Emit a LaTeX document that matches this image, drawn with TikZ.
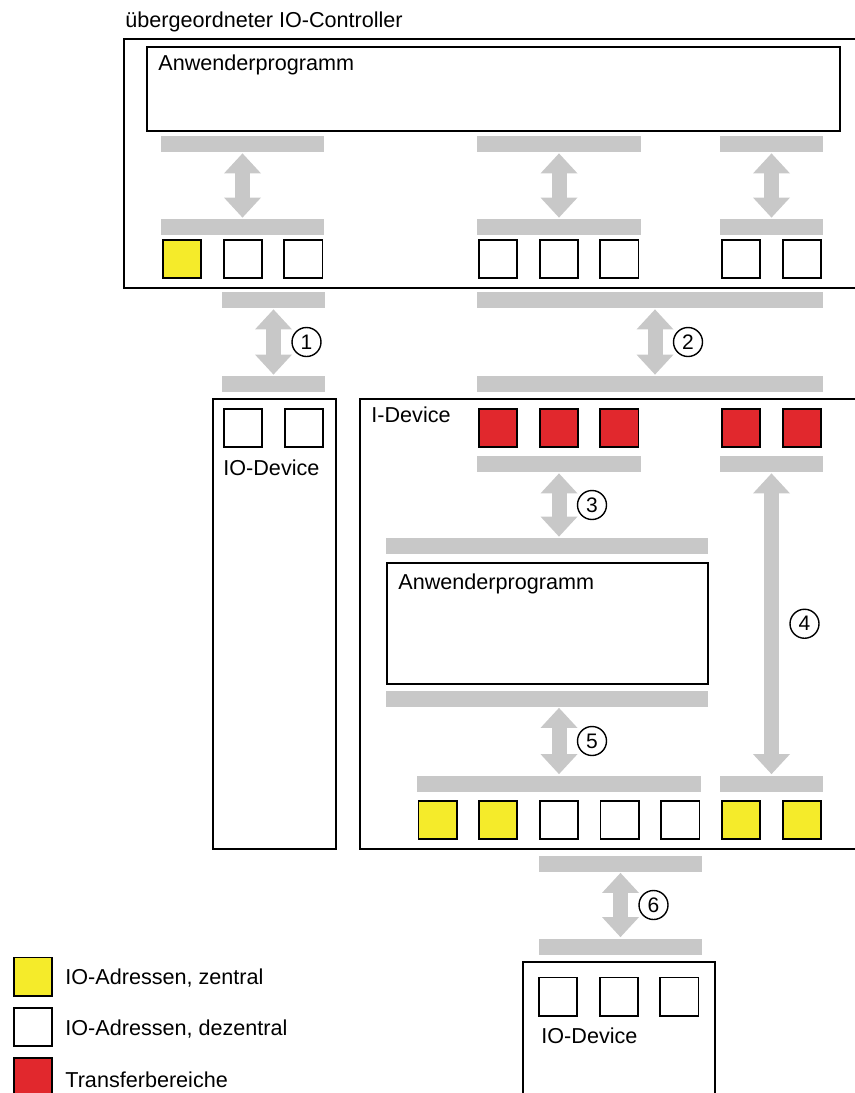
\documentclass[tikz,border=0pt]{standalone}
\usepackage{fontspec}
\setmainfont{Liberation Sans}
\usetikzlibrary{arrows.meta,positioning}
\definecolor{barcol}{HTML}{C8C8C8}
\definecolor{zentral}{HTML}{F5EB2A}
\definecolor{transfer}{HTML}{E1282D}

\begin{document}
\begin{tikzpicture}[
    x=0.5pt, y=-0.5pt,
    node distance=10.35pt,
    every node/.style={font=\fontsize{10.8}{13}\selectfont},
    box/.style={draw, line width=0.9pt, anchor=north west, inner sep=0},
    cell/.style={draw, line width=0.9pt, minimum width=19.1pt, minimum height=19.1pt, inner sep=0},
    cellz/.style={cell, fill=zentral},
    celld/.style={cell, fill=white},
    cellt/.style={cell, fill=transfer},
    bar/.style={fill=barcol, inner sep=0, minimum height=8pt},
    txt/.style={anchor=base west, inner sep=0},
    arrow/.style={draw=barcol, line width=7.5pt, shorten >=0.5pt, shorten <=0.5pt,
        {Triangle[length=10pt,width=18.5pt,line width=0pt]}-{Triangle[length=10pt,width=18.5pt,line width=0pt]}},
    num/.style={circle, draw=black, text=black, line width=0.7pt, minimum size=14.5pt, inner sep=0, xshift=16.5pt, font=\fontsize{10.5}{12}\selectfont}
]
    \useasboundingbox (0,0) rectangle (855,1093);
    \clip (0,0) rectangle (855,1093);

    % Controller (top)
    \node [txt] (title) at (125,27) {übergeordneter IO-Controller};
    \node [box, minimum width=388.5pt, minimum height=124.5pt] (ctrl) at (123,38) {};
    \node [box, minimum width=346.5pt, minimum height=42pt] (cprog) at (146,46) {};
    \node [txt] (cprogtxt) at (158,70) {Anwenderprogramm};

    \node [bar, minimum width=81.5pt] (cbar1a) at (242.5,144) {};
    \node [bar, minimum width=82pt] (cbar2a) at (559,144) {};
    \node [bar, minimum width=51.5pt] (cbar3a) at (771.5,144) {};
    \node [bar, minimum width=81.5pt] (cbar1b) at (242.5,227) {};
    \node [bar, minimum width=82pt] (cbar2b) at (559,227) {};
    \node [bar, minimum width=51.5pt] (cbar3b) at (771.5,227) {};

    \node [cellz] (c1) at (182,259) {};
    \node [celld, right=of c1] (c2) {};
    \node [celld, right=of c2] (c3) {};
    \node [celld] (c4) at (498,259) {};
    \node [celld, right=of c4] (c5) {};
    \node [celld, right=of c5] (c6) {};
    \node [celld] (c7) at (741,259) {};
    \node [celld, right=of c7] (c8) {};

    \draw [arrow] (cbar1a) -- (cbar1b);
    \draw [arrow] (cbar2a) -- (cbar2b);
    \draw [arrow] (cbar3a) -- (cbar3b);

    % Links to the devices
    \node [bar, minimum width=51.5pt] (lbar1) at (273.5,300) {};
    \node [bar, minimum width=173pt] (lbar2) at (650,300) {};
    \node [bar, minimum width=51.5pt] (lbar3) at (273.5,384) {};
    \node [bar, minimum width=173pt] (lbar4) at (650,384) {};
    \draw [arrow] (lbar1) -- node[num] {1} (lbar3);
    \draw [arrow] ([xshift=2.5pt]lbar2.south) -- node[num] {2} ([xshift=2.5pt]lbar4.north);

    % IO-Device (left)
    \node [box, minimum width=61.5pt, minimum height=225pt] (iodev) at (212,398) {};
    \node [celld] (d1) at (243,428) {};
    \node [celld, right=of d1] (d2) {};
    \node [txt] (iodevtxt) at (223,475) {IO-Device};

    % I-Device
    \node [box, minimum width=270pt, minimum height=225pt] (idev) at (359,398) {};
    \node [txt] (idevtxt) at (371,422) {I-Device};
    \node [cellt] (t1) at (498,428) {};
    \node [cellt, right=of t1] (t2) {};
    \node [cellt, right=of t2] (t3) {};
    \node [cellt] (t4) at (741,428) {};
    \node [cellt, right=of t4] (t5) {};

    \node [bar, minimum width=82pt] (ibar1) at (559,464) {};
    \node [bar, minimum width=51.5pt] (ibar2) at (771.5,464) {};
    \node [bar, minimum width=161pt] (ibar3) at (547,546) {};
    \node [box, minimum width=160.5pt, minimum height=60.5pt] (iprog) at (386,562) {};
    \node [txt] (iprogtxt) at (398,589) {Anwenderprogramm};
    \node [bar, minimum width=161pt] (ibar4) at (547,698.5) {};
    \node [bar, minimum width=142pt] (ibar5) at (559,783.5) {};
    \node [bar, minimum width=51.5pt] (ibar6) at (771.5,783.5) {};

    \draw [arrow] (ibar1) -- node[num] {3} (ibar1 |- ibar3.north);
    \draw [arrow] (ibar2) -- node[num] {4} (ibar6);
    \draw [arrow] (ibar5 |- ibar4.south) -- node[num] {5} (ibar5);

    \node [cellz] (e1) at (437.5,820) {};
    \node [cellz, right=of e1] (e2) {};
    \node [celld, right=of e2] (e3) {};
    \node [celld, right=of e3] (e4) {};
    \node [celld, right=of e4] (e5) {};
    \node [cellz, right=of e5] (e6) {};
    \node [cellz, right=of e6] (e7) {};

    % IO-Device (bottom)
    \node [bar, minimum width=81.5pt] (bbar1) at (620.5,863.5) {};
    \node [bar, minimum width=81.5pt] (bbar2) at (620.5,946.5) {};
    \draw [arrow] (bbar1) -- node[num] {6} (bbar2);
    \node [box, minimum width=96pt, minimum height=100pt] (iodev2) at (522,961) {};
    \node [celld] (f1) at (558,996.5) {};
    \node [celld, right=of f1] (f2) {};
    \node [celld, right=of f2] (f3) {};
    \node [txt] (iodev2txt) at (541,1043) {IO-Device};

    % Legend
    \node [cellz] (legz) at (33,976.5) {};
    \node [celld] (legd) at (33,1027) {};
    \node [cellt] (legt) at (33,1077) {};
    \node [txt] (legztxt) at (65,984) {IO-Adressen, zentral};
    \node [txt] (legdtxt) at (65,1035) {IO-Adressen, dezentral};
    \node [txt] (legttxt) at (65,1087) {Transferbereiche};

\end{tikzpicture}
\end{document}
